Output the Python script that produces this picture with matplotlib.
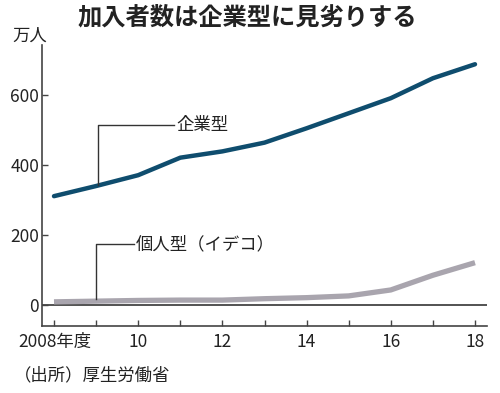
import matplotlib
matplotlib.use("Agg")
import matplotlib.pyplot as plt

plt.rcParams['font.family'] = ['Noto Sans CJK JP', 'DejaVu Sans']

years = [2008, 2009, 2010, 2011, 2012, 2013, 2014, 2015, 2016, 2017, 2018]
corporate = [311, 340, 371, 421, 439, 464, 505, 548, 591, 648, 688]
individual = [9, 11, 13, 14, 14, 18, 21, 26, 43, 85, 121]
xtick_pos = [2008, 2010, 2012, 2014, 2016, 2018]
xtick_labels = ['2008年度', '10', '12', '14', '16', '18']
ytick_pos = [0, 200, 400, 600]

fig = plt.figure(figsize=(5.0, 3.93), dpi=100)
ax = fig.add_axes([0.084, 0.1705, 0.89, 0.715])
ax.set_xlim(2007.715, 2018.285)
ax.set_ylim(-60, 743)

ax.plot(years, corporate, color='#0f4d6e', lw=3.2, solid_capstyle='round', zorder=3)
ax.plot(years, individual, color='#a9a5ae', lw=3.8, solid_capstyle='butt', zorder=3)
ax.axhline(0, color='#444444', lw=1.3, zorder=2)

for s in ['top', 'right']:
    ax.spines[s].set_visible(False)
for s in ['left', 'bottom']:
    ax.spines[s].set_color('#444444')
    ax.spines[s].set_linewidth(1.2)

ax.set_xticks(years)
ax.set_xticklabels(['' for _ in years])
ax.tick_params(axis='x', direction='in', length=4, width=1, colors='#444444')
for xp, lab in zip(xtick_pos, xtick_labels):
    if lab.startswith('2008'):
        ax.annotate(lab, xy=(xp, 0), xycoords=('data', 'axes fraction'),
                    xytext=(-26, -5), textcoords='offset points', ha='left',
                    va='top', fontsize=12.5, color='#222222')
    else:
        ax.annotate(lab, xy=(xp, 0), xycoords=('data', 'axes fraction'),
                    xytext=(0, -5), textcoords='offset points', ha='center',
                    va='top', fontsize=12.5, color='#222222')

ax.set_yticks(ytick_pos)
ax.set_yticklabels([str(v) for v in ytick_pos], fontsize=12.5, color='#222222')
ax.tick_params(axis='y', direction='in', length=4, width=1, colors='#444444',
               labelcolor='#222222', pad=2)

# callouts
line_kw = dict(color='#333333', lw=1.0, zorder=4)
ax.plot([2009.05, 2009.05, 2010.85], [344, 514, 514], **line_kw)
ax.text(2010.9, 514, '企業型', fontsize=12.5, va='center', ha='left', color='#222222')
ax.plot([2009.0, 2009.0, 2009.9], [16, 174, 174], **line_kw)
ax.text(2009.95, 174, '個人型（イデコ）', fontsize=12.5, va='center', ha='left', color='#222222')

fig.text(0.494, 0.955, '加入者数は企業型に見劣りする', fontsize=17.5, fontweight='bold',
         ha='center', va='center', color='#222222')
fig.text(0.024, 0.908, '万人', fontsize=12.5, ha='left', va='center', color='#222222')
fig.text(0.028, 0.045, '（出所）厚生労働省', fontsize=12.5, ha='left', va='center', color='#222222')

fig.savefig('out.png', dpi=100, facecolor='white')
